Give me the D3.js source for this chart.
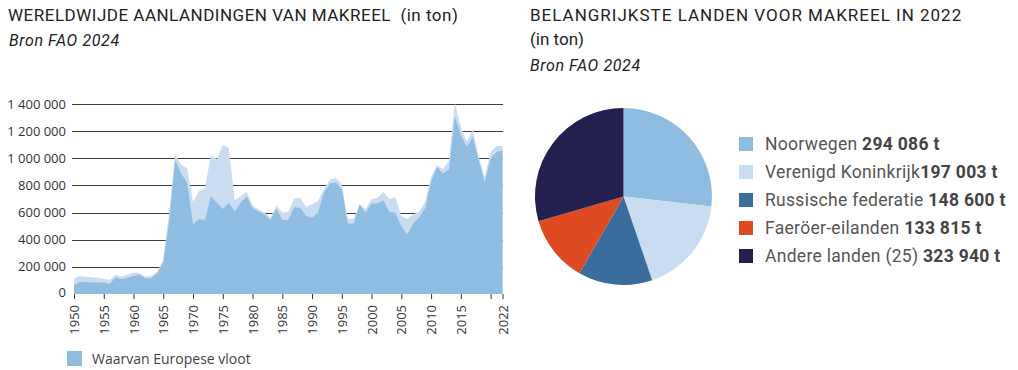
<!DOCTYPE html>
<html>
<head>
<meta charset="utf-8">
<script src="https://cdn.jsdelivr.net/npm/d3@7/dist/d3.min.js"></script>
<style>
  html, body { margin: 0; padding: 0; background: #fff; }
  svg { display: block; }
  .title { font-family: Roboto, sans-serif; font-size: 17px; fill: #222; }
  .source { font-family: Roboto, sans-serif; font-size: 16px; letter-spacing: 0.6px; font-style: italic; fill: #222; }
  .tick-label { font-family: "Open Sans", sans-serif; font-size: 13px; fill: #333; }
  .legend { font-family: Roboto, sans-serif; font-size: 17.5px; letter-spacing: 0.3px; fill: #555; }
  .legend tspan.num { font-weight: 700; fill: #444; }
</style>
</head>
<body>
<svg id="chart" width="1018" height="370"></svg>
<script>
// landings per year, in tonnes
const years = d3.range(1950, 2023);
const totalLandings = [
  116000, 133000, 128000, 124000, 119000, 111000, 104000, 141000, 128000, 141000,
  158000, 153000, 128000, 133000, 165000, 250000, 600000, 1030000, 950000, 926000,
  680000, 758000, 780000, 1020000, 995000, 1097000, 1075000, 690000, 720000, 755000,
  653000, 623000, 600000, 562000, 653000, 599000, 604000, 703000, 710000, 643000,
  661000, 686000, 777000, 841000, 854000, 809000, 554000, 554000, 661000, 624000,
  698000, 710000, 752000, 698000, 715000, 574000, 553000, 587000, 607000, 680000,
  864000, 949000, 920000, 981000, 1409000, 1231000, 1121000, 1214000, 1011000, 864000,
  1047000, 1091000, 1091000
];
const europeLandings = [
  67000, 91000, 89000, 86000, 84000, 84000, 74000, 124000, 109000, 119000,
  133000, 141000, 116000, 116000, 153000, 235000, 540000, 985000, 890000, 820000,
  510000, 555000, 544000, 720000, 672000, 627000, 670000, 608000, 672000, 720000,
  634000, 607000, 587000, 545000, 629000, 545000, 545000, 640000, 636000, 574000,
  562000, 599000, 747000, 814000, 822000, 772000, 520000, 520000, 658000, 599000,
  666000, 666000, 690000, 604000, 599000, 500000, 439000, 521000, 563000, 631000,
  827000, 937000, 888000, 920000, 1304000, 1170000, 1084000, 1157000, 986000, 822000,
  998000, 1047000, 1060000
];
const yTicks = [0, 200000, 400000, 600000, 800000, 1000000, 1200000, 1400000];
const xTicks = [1950, 1955, 1960, 1965, 1970, 1975, 1980, 1985, 1990, 1995, 2000, 2005, 2010, 2015, 2020, 2022];
const xLabelHidden = [2020];

// countries 2022
const countries = ['Noorwegen', 'Verenigd Koninkrijk', 'Russische federatie', 'Faeröer-eilanden', 'Andere landen (25)'];
const countryTonnes = [294086, 197003, 148600, 133815, 323940];
const countryColors = ['#8fbde1', '#c9dcf0', '#3a6d9d', '#de4a22', '#232050'];
const countryGap = [' ', '', ' ', ' ', ' '];

const fmt = d3.formatLocale({ decimal: ',', thousands: ' ', grouping: [3], currency: ['', ''] }).format(',d');

const svg = d3.select('#chart');

// ---- titles
svg.append('text').attr('class', 'title').attr('x', 8).attr('y', 21)
  .attr('letter-spacing', 0.5)
  .text('WERELDWIJDE AANLANDINGEN VAN MAKREEL \u00a0(in ton)');
svg.append('text').attr('class', 'source').attr('x', 9).attr('y', 46).text('Bron FAO 2024');

svg.append('text').attr('class', 'title').attr('x', 530).attr('y', 21)
  .attr('letter-spacing', 1)
  .text('BELANGRIJKSTE LANDEN VOOR MAKREEL IN 2022');
svg.append('text').attr('class', 'title').attr('x', 530).attr('y', 45).text('(in ton)');
svg.append('text').attr('class', 'source').attr('x', 530).attr('y', 71).text('Bron FAO 2024');

// ---- area chart
const x = d3.scaleLinear().domain([1950, 2022]).range([74, 502.5]);
const y = d3.scaleLinear().domain([0, 1400000]).range([294, 104]);

svg.append('g').selectAll('line')
  .data(yTicks.filter(d => d > 0))
  .join('line')
  .attr('x1', 72).attr('x2', 503)
  .attr('y1', d => Math.round(y(d)) + 0.5).attr('y2', d => Math.round(y(d)) + 0.5)
  .attr('stroke', '#3a3a3a').attr('stroke-width', 1);

svg.append('g').selectAll('text')
  .data(yTicks)
  .join('text')
  .attr('class', 'tick-label')
  .attr('x', 66)
  .attr('y', d => y(d) - (d === 0 ? 2 : 0))
  .attr('dy', '0.35em')
  .attr('text-anchor', 'end')
  .attr('font-size', 13.5)
  .text(d => fmt(d));

const totalArea = d3.area()
  .x((d, i) => x(years[i]))
  .y0(y(0))
  .y1(d => y(d));

svg.append('path').datum(totalLandings).attr('d', totalArea).attr('fill', '#c9dcf0');
svg.append('path').datum(europeLandings).attr('d', totalArea).attr('fill', '#8fbde1');

const xAxis = d3.axisBottom(x)
  .tickValues(xTicks)
  .tickSize(5)
  .tickSizeOuter(0)
  .tickFormat(d => xLabelHidden.includes(d) ? '' : String(d));

const gx = svg.append('g').attr('transform', `translate(0,${y(0)})`).call(xAxis);
gx.select('.domain').remove();
gx.selectAll('.tick line').attr('stroke', '#333');
gx.selectAll('.tick text')
  .attr('class', 'tick-label')
  .attr('transform', 'rotate(-90)')
  .attr('text-anchor', 'end')
  .attr('x', -11)
  .attr('y', 0)
  .attr('dy', '0.35em')
  .attr('font-family', null).attr('font-size', null).attr('fill', null);

svg.append('rect').attr('x', 67).attr('y', 351).attr('width', 15).attr('height', 15).attr('fill', '#8fbde1');
svg.append('text').attr('x', 92).attr('y', 364)
  .attr('font-family', '"Open Sans", sans-serif').attr('font-size', 14).attr('fill', '#444')
  .text('Waarvan Europese vloot');

// ---- pie
const pie = d3.pie().sort(null).value(d => d);
const arc = d3.arc().innerRadius(0).outerRadius(88.5);
const gPie = svg.append('g').attr('transform', 'translate(623.5,196.5)');
gPie.selectAll('path')
  .data(pie(countryTonnes))
  .join('path')
  .attr('d', arc)
  .attr('fill', (d, i) => countryColors[i]);

const legend = svg.append('g').attr('transform', 'translate(739,137)');
const rows = legend.selectAll('g')
  .data(countries)
  .join('g')
  .attr('transform', (d, i) => `translate(0,${i * 28})`);
rows.append('rect').attr('width', 14).attr('height', 14).attr('fill', (d, i) => countryColors[i]);
const lt = rows.append('text').attr('class', 'legend').attr('x', 26).attr('y', 13);
lt.append('tspan').text((d, i) => d + countryGap[i]);
lt.append('tspan').attr('class', 'num').text((d, i) => fmt(countryTonnes[i]) + ' t');
</script>
</body>
</html>
